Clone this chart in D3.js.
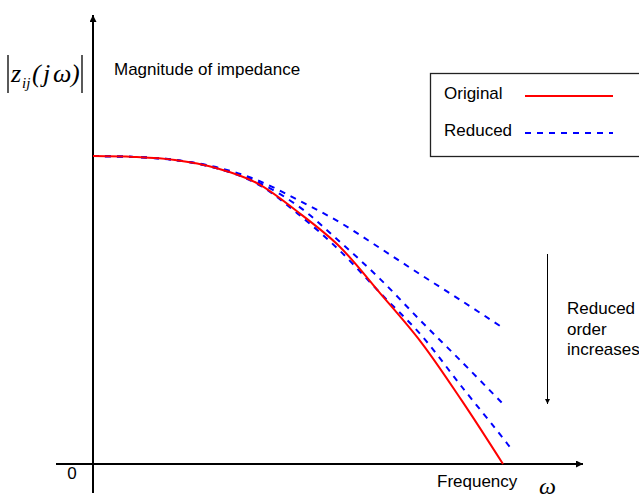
<!DOCTYPE html>
<html>
<head>
<meta charset="utf-8">
<script src="https://cdn.jsdelivr.net/npm/d3@7"></script>
<style>
  html, body { margin: 0; padding: 0; background: #fff; }
  svg { display: block; }
  .sans { font-family: "Liberation Sans", Arial, Helvetica, sans-serif; font-size: 17px; fill: #000; }
  .math { font-family: "Liberation Serif", "Times New Roman", serif; font-style: italic; fill: #000; }
</style>
</head>
<body>
<svg id="chart" width="639" height="499"></svg>
<script>
// Normalised frequency samples and impedance magnitudes |z_ij(jω)|
const freq = [0, 0.1, 0.2, 0.3, 0.4, 0.5, 0.6, 0.7, 0.8, 0.9, 1.0];
const original = [1.000, 0.997, 0.987, 0.961, 0.912, 0.818, 0.708, 0.555, 0.396, 0.205, 0.000];

// Reduced-order models, lowest order first
const reducedLow  = [1.000, 0.997, 0.987, 0.964, 0.922, 0.857, 0.786, 0.701, 0.614, 0.529, 0.442];
const reducedMid  = [1.000, 0.997, 0.987, 0.961, 0.916, 0.838, 0.724, 0.601, 0.464, 0.331, 0.195];
const freqHigh    = [0, 0.1, 0.2, 0.3, 0.4, 0.5, 0.6, 0.7, 0.8, 0.9, 1.0, 1.02];
const reducedHigh = [1.000, 0.997, 0.987, 0.961, 0.910, 0.812, 0.695, 0.556, 0.419, 0.250, 0.084, 0.049];

const legendLabels = ["Original", "Reduced"];
const zeroLabel = "0";

const svg = d3.select("#chart");

const x = d3.scaleLinear().domain([0, 1]).range([93, 503]);
const y = d3.scaleLinear().domain([0, 1]).range([464, 156]);

const line = d3.line()
  .x(d => x(d[0]))
  .y(d => y(d[1]))
  .curve(d3.curveCatmullRom.alpha(0.5));

// Arrow markers
const defs = svg.append("defs");
defs.append("marker")
  .attr("id", "axisArrow")
  .attr("viewBox", "0 0 10 10")
  .attr("refX", 10).attr("refY", 5)
  .attr("markerWidth", 9).attr("markerHeight", 7)
  .attr("markerUnits", "userSpaceOnUse")
  .attr("orient", "auto")
  .append("path").attr("d", "M0,0 L10,5 L0,10 Z").attr("fill", "#000");
defs.append("marker")
  .attr("id", "smallArrow")
  .attr("viewBox", "0 0 10 10")
  .attr("refX", 10).attr("refY", 5)
  .attr("markerWidth", 7).attr("markerHeight", 5)
  .attr("markerUnits", "userSpaceOnUse")
  .attr("orient", "auto")
  .append("path").attr("d", "M0,0 L10,5 L0,10 Z").attr("fill", "#000");

// Axes
svg.append("line")
  .attr("x1", x(0) - 37).attr("y1", y(0))
  .attr("x2", x(1) + 80).attr("y2", y(0))
  .attr("stroke", "#000").attr("stroke-width", 2)
  .attr("marker-end", "url(#axisArrow)");
svg.append("line")
  .attr("x1", x(0)).attr("y1", y(0) + 29)
  .attr("x2", x(0)).attr("y2", 15)
  .attr("stroke", "#000").attr("stroke-width", 2)
  .attr("marker-end", "url(#axisArrow)");

svg.append("text").attr("class", "sans")
  .attr("x", x(0) - 21).attr("y", y(0) + 15)
  .attr("text-anchor", "middle").text(zeroLabel);

// Curves
const toPts = (xs, ys) => xs.map((f, i) => [f, ys[i]]);
const g = svg.append("g");
[reducedLow, reducedMid].forEach(series => {
  g.append("path")
    .attr("d", line(toPts(freq, series)))
    .attr("fill", "none").attr("stroke", "#0000ff")
    .attr("stroke-width", 2).attr("stroke-dasharray", "6,6");
});
g.append("path")
  .attr("d", line(toPts(freqHigh, reducedHigh)))
  .attr("fill", "none").attr("stroke", "#0000ff")
  .attr("stroke-width", 2).attr("stroke-dasharray", "6,6");
g.append("path")
  .attr("d", line(toPts(freq, original)))
  .attr("fill", "none").attr("stroke", "#ff0000")
  .attr("stroke-width", 2);

// Axis titles
svg.append("text").attr("class", "sans")
  .attr("x", 114).attr("y", 75).text("Magnitude of impedance");
svg.append("text").attr("class", "sans")
  .attr("x", 437).attr("y", 487).text("Frequency");
svg.append("text").attr("class", "math")
  .attr("x", 539).attr("y", 494).attr("font-size", 24).text("ω");

// |z_ij(jω)| label
const lab = svg.append("g");
lab.append("line").attr("x1", 8).attr("x2", 8).attr("y1", 55).attr("y2", 93)
  .attr("stroke", "#000").attr("stroke-width", 1.3);
lab.append("line").attr("x1", 82).attr("x2", 82).attr("y1", 55).attr("y2", 93)
  .attr("stroke", "#000").attr("stroke-width", 1.3);
lab.append("text").attr("class", "math").attr("x", 11).attr("y", 82)
  .attr("font-size", 26).text("z");
lab.append("text").attr("class", "math").attr("x", 22).attr("y", 88)
  .attr("font-size", 15).text("ij");
lab.append("text").attr("class", "math").attr("x", 32).attr("y", 82)
  .attr("font-size", 26).attr("font-style", "normal").text("(");
lab.append("text").attr("class", "math").attr("x", 43).attr("y", 82)
  .attr("font-size", 26).text("j");
lab.append("text").attr("class", "math").attr("x", 53).attr("y", 82)
  .attr("font-size", 26).text("ω");
lab.append("text").attr("class", "math").attr("x", 71).attr("y", 82)
  .attr("font-size", 26).attr("font-style", "normal").text(")");

// Legend
const lg = svg.append("g");
lg.append("rect").attr("x", 430.5).attr("y", 73.5).attr("width", 230).attr("height", 83)
  .attr("fill", "#fff").attr("stroke", "#222").attr("stroke-width", 1.3);
lg.append("text").attr("class", "sans").attr("x", 444).attr("y", 99).text(legendLabels[0]);
lg.append("text").attr("class", "sans").attr("x", 444).attr("y", 136).text(legendLabels[1]);
lg.append("line").attr("x1", 525).attr("x2", 613).attr("y1", 96).attr("y2", 96)
  .attr("stroke", "#ff0000").attr("stroke-width", 2);
lg.append("line").attr("x1", 525).attr("x2", 613).attr("y1", 133).attr("y2", 133)
  .attr("stroke", "#0000ff").attr("stroke-width", 2).attr("stroke-dasharray", "6,6");

// Order annotation
svg.append("line")
  .attr("x1", 547.5).attr("x2", 547.5).attr("y1", 254).attr("y2", 404)
  .attr("stroke", "#000").attr("stroke-width", 1)
  .attr("marker-end", "url(#smallArrow)");
const note = svg.append("text").attr("class", "sans").attr("x", 567).attr("y", 314);
["Reduced", "order", "increases"].forEach((t, i) => {
  note.append("tspan").attr("x", 567).attr("dy", i === 0 ? 0 : 20.5).text(t);
});
</script>
</body>
</html>
